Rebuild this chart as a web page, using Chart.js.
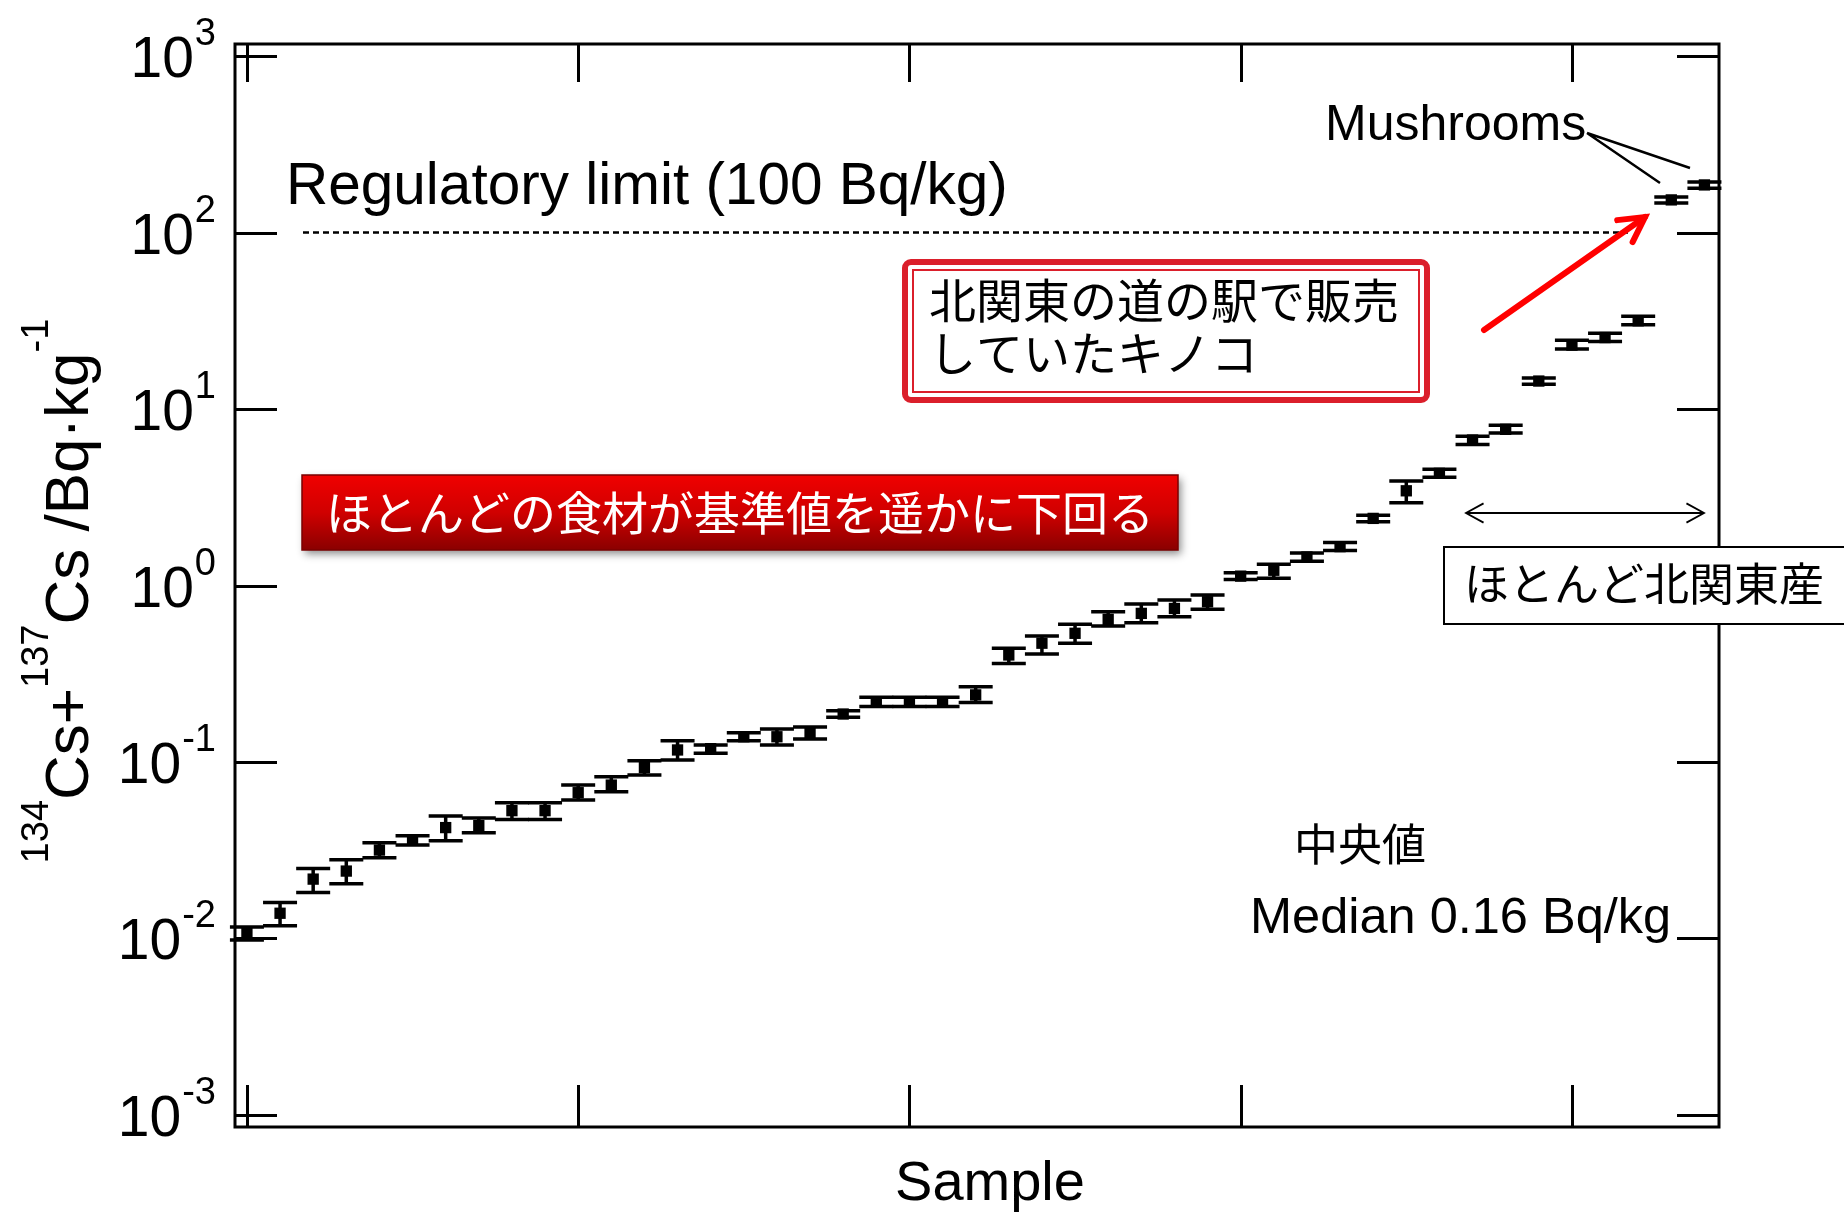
<!DOCTYPE html>
<html>
<head>
<meta charset="utf-8">
<script src="https://cdn.jsdelivr.net/npm/chart.js@4.4.1/dist/chart.umd.min.js"></script>
<style>
  html, body { margin: 0; padding: 0; background: #fff; }
  #wrap { width: 1844px; height: 1215px; }
</style>
</head>
<body>
<div id="wrap"><canvas id="cesiumChart" width="1844" height="1215"></canvas></div>
<script>
// sample number (ordinal, sorted by activity)
const samples = [0, 1, 2, 3, 4, 5, 6, 7, 8, 9, 10, 11, 12, 13, 14, 15, 16, 17, 18, 19, 20, 21, 22,
    23, 24, 25, 26, 27, 28, 29, 30, 31, 32, 33, 34, 35, 36, 37, 38, 39, 40, 41, 42, 43, 44];

// 134Cs + 137Cs, Bq/kg
const cesium = [0.0108, 0.0139, 0.0217, 0.0241, 0.0317, 0.0361, 0.0425, 0.0436, 0.053, 0.053,
    0.067, 0.074, 0.093, 0.117, 0.119, 0.139, 0.139, 0.145, 0.187, 0.218,
    0.218, 0.218, 0.240, 0.404, 0.471, 0.536, 0.643, 0.695, 0.741, 0.809,
    1.13, 1.22, 1.45, 1.66, 2.40, 3.44, 4.32, 6.67, 7.67, 14.4,
    23.0, 25.4, 31.6, 153, 186];
const cesiumUpper = [0.0116, 0.0160, 0.0249, 0.0279, 0.0349, 0.0382, 0.0494, 0.0482, 0.0588, 0.0588,
    0.0741, 0.0826, 0.1017, 0.132, 0.125, 0.1466, 0.154, 0.158, 0.195, 0.233,
    0.233, 0.233, 0.267, 0.441, 0.518, 0.603, 0.711, 0.785, 0.828, 0.883,
    1.18, 1.32, 1.53, 1.75, 2.50, 3.91, 4.55, 7.0, 8.1, 15.0,
    24.5, 26.9, 33.5, 159, 193];
const cesiumLower = [0.0098, 0.0118, 0.0182, 0.0204, 0.0287, 0.0339, 0.0358, 0.0397, 0.0473, 0.0473,
    0.0610, 0.0679, 0.0843, 0.1026, 0.112, 0.132, 0.125, 0.135, 0.179, 0.206,
    0.206, 0.206, 0.217, 0.362, 0.409, 0.471, 0.590, 0.615, 0.665, 0.733,
    1.08, 1.10, 1.37, 1.58, 2.30, 2.94, 4.10, 6.3, 7.3, 13.8,
    21.9, 24.1, 30.0, 147, 178];

const yTickValues = [0.001, 0.01, 0.1, 1, 10, 100, 1000];
const yTickExponents = ['-3', '-2', '-1', '0', '1', '2', '3'];
const xTickValues = [0, 10, 20, 30, 40];
const regulatoryLimit = 100;

const LATIN = '"Liberation Sans", Arial, sans-serif';
const JP = '"Noto Sans CJK JP", sans-serif';

function arrowHead(ctx, fromX, fromY, toX, toY, len, spread) {
    const ang = Math.atan2(toY - fromY, toX - fromX);
    ctx.beginPath();
    ctx.moveTo(toX - len * Math.cos(ang - spread), toY - len * Math.sin(ang - spread));
    ctx.lineTo(toX, toY);
    ctx.lineTo(toX - len * Math.cos(ang + spread), toY - len * Math.sin(ang + spread));
    ctx.stroke();
}

// frame, inward ticks, axis labels, error bars
const axesPlugin = {
    id: 'axesPlugin',
    beforeDatasetsDraw(chart) {
        const { ctx, chartArea: a, scales: { x, y } } = chart;
        ctx.save();
        ctx.strokeStyle = '#000';
        ctx.fillStyle = '#000';

        // regulatory limit
        const ly = y.getPixelForValue(regulatoryLimit);
        ctx.lineWidth = 2.5;
        ctx.setLineDash([6, 4]);
        ctx.beginPath();
        ctx.moveTo(303, ly);
        ctx.lineTo(1628, ly);
        ctx.stroke();
        ctx.setLineDash([]);

        // frame
        ctx.lineWidth = 3;
        ctx.strokeRect(a.left, a.top, a.right - a.left, a.bottom - a.top);

        ctx.lineWidth = 3;
        yTickValues.forEach(v => {
            const py = Math.round(y.getPixelForValue(v)) + 0.5;
            ctx.beginPath();
            ctx.moveTo(a.left, py); ctx.lineTo(a.left + 42, py);
            ctx.moveTo(a.right - 42, py); ctx.lineTo(a.right, py);
            ctx.stroke();
        });
        xTickValues.forEach(v => {
            const px = Math.round(x.getPixelForValue(v)) + 0.5;
            ctx.beginPath();
            ctx.moveTo(px, a.bottom); ctx.lineTo(px, a.bottom - 42);
            ctx.moveTo(px, a.top); ctx.lineTo(px, a.top + 38);
            ctx.stroke();
        });

        // y tick labels 10^n
        ctx.textAlign = 'right';
        ctx.textBaseline = 'alphabetic';
        yTickValues.forEach((v, i) => {
            const py = y.getPixelForValue(v);
            ctx.font = '38px ' + LATIN;
            const ew = ctx.measureText(yTickExponents[i]).width;
            ctx.fillText(yTickExponents[i], 216, py - 11);
            ctx.font = '57px ' + LATIN;
            ctx.fillText('10', 216 - ew - 1, py + 21);
        });

        // x title
        ctx.textAlign = 'center';
        ctx.font = '56px ' + LATIN;
        ctx.fillText('Sample', 990, 1200);

        // y title (rotated, with superscripts)
        const parts = [
            ['134', true], ['Cs+', false], ['137', true], ['Cs /Bq\u00b7kg', false], ['-1', true]
        ];
        const bigFont = '62px ' + LATIN, supFont = '38px ' + LATIN;
        let total = 0;
        parts.forEach(p => {
            ctx.font = p[1] ? supFont : bigFont;
            total += ctx.measureText(p[0]).width;
        });
        ctx.translate(88, 591);
        ctx.rotate(-Math.PI / 2);
        ctx.textAlign = 'left';
        let cx = -total / 2;
        parts.forEach(p => {
            ctx.font = p[1] ? supFont : bigFont;
            ctx.fillText(p[0], cx, p[1] ? -40 : 0);
            cx += ctx.measureText(p[0]).width;
        });
        ctx.setTransform(1, 0, 0, 1, 0, 0);

        // error bars
        ctx.lineWidth = 3.5;
        cesium.forEach((v, i) => {
            const px = x.getPixelForValue(samples[i]);
            const top = y.getPixelForValue(cesiumUpper[i]);
            const bot = y.getPixelForValue(cesiumLower[i]);
            ctx.beginPath();
            ctx.moveTo(px, top); ctx.lineTo(px, bot);
            ctx.moveTo(px - 17, top); ctx.lineTo(px + 17, top);
            ctx.moveTo(px - 17, bot); ctx.lineTo(px + 17, bot);
            ctx.stroke();
        });
        ctx.restore();
    },

    afterDraw(chart) {
        const { ctx } = chart;
        ctx.save();
        ctx.textBaseline = 'alphabetic';
        ctx.textAlign = 'left';
        ctx.fillStyle = '#000';
        ctx.strokeStyle = '#000';

        ctx.font = '58.5px ' + LATIN;
        ctx.fillText('Regulatory limit (100 Bq/kg)', 286, 204);

        ctx.font = '50px ' + LATIN;
        ctx.fillText('Mushrooms', 1325, 140);
        ctx.lineWidth = 2.5;
        ctx.beginPath();
        ctx.moveTo(1587, 133); ctx.lineTo(1660, 183);
        ctx.moveTo(1587, 133); ctx.lineTo(1690, 168);
        ctx.stroke();

        ctx.font = '50.5px ' + LATIN;
        ctx.fillText('Median 0.16 Bq/kg', 1250, 933);
        ctx.font = '44px ' + JP;
        ctx.textBaseline = 'middle';
        ctx.fillText('中央値', 1294, 844);

        // red gradient banner
        ctx.save();
        ctx.shadowColor = 'rgba(0,0,0,0.45)';
        ctx.shadowBlur = 8;
        ctx.shadowOffsetX = 3;
        ctx.shadowOffsetY = 4;
        const g = ctx.createLinearGradient(0, 475, 0, 550);
        g.addColorStop(0, '#f00000');
        g.addColorStop(0.5, '#d00000');
        g.addColorStop(1, '#8a0000');
        ctx.fillStyle = g;
        ctx.fillRect(302, 475, 876, 75);
        ctx.restore();
        ctx.strokeStyle = '#7a0000';
        ctx.lineWidth = 1.5;
        ctx.strokeRect(302, 475, 876, 75);
        ctx.fillStyle = '#fff';
        ctx.font = '46px ' + JP;
        ctx.fillText('ほとんどの食材が基準値を遥かに下回る', 326, 513);

        // double-bordered red box
        ctx.strokeStyle = '#db1f2b';
        ctx.lineWidth = 6;
        ctx.beginPath();
        ctx.roundRect(905, 262, 522, 138, 6);
        ctx.stroke();
        ctx.lineWidth = 2;
        ctx.strokeRect(913, 270, 506, 122);
        ctx.fillStyle = '#000';
        ctx.font = '47px ' + JP;
        ctx.fillText('北関東の道の駅で販売', 929, 300);
        ctx.fillText('していたキノコ', 929, 353);

        // red arrow
        ctx.strokeStyle = '#ff0000';
        ctx.lineWidth = 6;
        ctx.lineCap = 'round';
        ctx.beginPath();
        ctx.moveTo(1484, 330); ctx.lineTo(1645, 217);
        ctx.stroke();
        arrowHead(ctx, 1484, 330, 1645, 217, 28, 0.5);
        ctx.lineCap = 'butt';

        // double-headed arrow
        ctx.strokeStyle = '#000';
        ctx.lineWidth = 1.8;
        ctx.beginPath();
        ctx.moveTo(1466, 513); ctx.lineTo(1704, 513);
        ctx.stroke();
        arrowHead(ctx, 1704, 513, 1466, 513, 20, 0.5);
        arrowHead(ctx, 1466, 513, 1704, 513, 20, 0.5);

        // origin box
        ctx.fillStyle = '#fff';
        ctx.fillRect(1444, 547, 420, 77);
        ctx.lineWidth = 2;
        ctx.strokeRect(1444, 547, 420, 77);
        ctx.fillStyle = '#000';
        ctx.font = '45px ' + JP;
        ctx.fillText('ほとんど北関東産', 1464, 584);
        ctx.restore();
    }
};

new Chart(document.getElementById('cesiumChart'), {
    type: 'scatter',
    data: {
        datasets: [{
            data: cesium.map((v, i) => ({ x: samples[i], y: v })),
            pointStyle: 'rect',
            pointRadius: 8,
            backgroundColor: '#000',
            borderWidth: 0
        }]
    },
    options: {
        responsive: false,
        animation: false,
        events: [],
        layout: { padding: { left: 235, right: 125, top: 44, bottom: 88 } },
        scales: {
            x: { type: 'linear', min: -0.36, max: 44.44, display: false },
            y: { type: 'logarithmic', min: Math.pow(10, -3.068), max: Math.pow(10, 3.068), display: false }
        },
        plugins: {
            legend: { display: false },
            tooltip: { enabled: false }
        }
    },
    plugins: [axesPlugin]
});
</script>
</body>
</html>
